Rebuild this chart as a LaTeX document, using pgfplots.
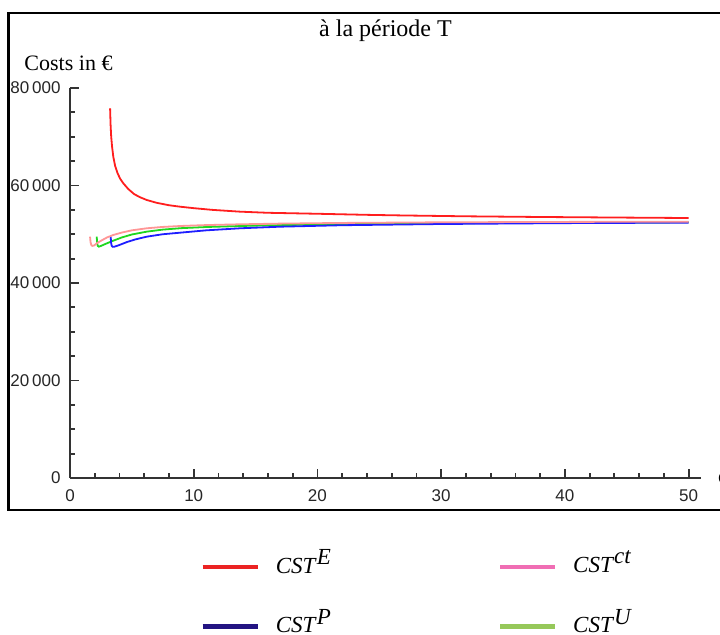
\documentclass[border=0pt]{standalone}
\usepackage{fontspec}
\setmainfont{Liberation Serif}
\newfontfamily\tickfont{Liberation Sans}
\usepackage{pgfplots}
\pgfplotsset{compat=1.18}
\definecolor{cE}{RGB}{255,30,30}
\definecolor{cCT}{RGB}{255,150,150}
\definecolor{cP}{RGB}{30,30,255}
\definecolor{cU}{RGB}{30,215,30}
\definecolor{lE}{RGB}{235,35,35}
\definecolor{lCT}{RGB}{240,110,180}
\definecolor{lP}{RGB}{35,20,130}
\definecolor{lU}{RGB}{150,200,90}
\begin{document}
\begin{tikzpicture}
\path[use as bounding box] (0,0) rectangle (360pt,317.5pt);
\clip (0,0) rectangle (360pt,317.5pt);
\fill[white] (0,0) rectangle (360pt,317.5pt);
\draw[line width=1pt] (4.25pt,311pt) rectangle (372pt,62.5pt);
\begin{axis}[
  at={(35pt,78.5pt)}, anchor=south west,
  scale only axis, width=315.5pt, height=195pt,
  xmin=0, xmax=51, ymin=0, ymax=80000,
  axis x line=bottom, axis y line=left,
  axis line style={-, line width=0.9pt, color=black!80},
  tick align=inside,
  major tick length=4.5pt, minor tick length=2.5pt,
  every tick/.style={black!80, line width=0.9pt},
  xtick={0,10,...,50}, minor x tick num=4,
  ytick={0,20000,...,80000}, minor y tick num=3,
  scaled y ticks=false,
  /pgf/number format/1000 sep={\,},
  /pgf/number format/assume math mode=true,
  tick label style={font=\tickfont\fontsize{8.5}{10}\selectfont, text=black!85},
  yticklabel style={xshift=-1.2pt},
  xticklabel style={yshift=-2.5pt},
  title={à la période T},
  title style={font=\fontsize{12}{14}\selectfont, at={(0.5,1)}, anchor=base, yshift=19.5pt},
  ylabel={Costs in €},
  every axis y label/.style={at={(rel axis cs:0,1)}, anchor=base, yshift=8.5pt, xshift=-0.75pt, font=\fontsize{11}{13}\selectfont},
  xlabel={c},
  every axis x label/.style={at={(rel axis cs:1,0)}, anchor=west, xshift=5pt, font=\fontsize{11}{13}\selectfont},
  legend columns=2,
  legend style={draw=none, fill=none, inner sep=0pt, at={(rel axis cs:0.206,-0.182)}, anchor=north west,
    font=\fontsize{11.5}{13}\selectfont, row sep=16.5pt,
    nodes={inner sep=0pt},
    /tikz/every odd column/.append style={column sep=8pt},
    /tikz/every even column/.append style={column sep=83pt}},
  legend image code/.code={\draw[#1, line width=2.2pt] (0pt,-2pt) -- (27.5pt,-2pt);},
]
\addplot[cE, line width=0.9pt, forget plot] coordinates {
(3.24,75840) (3.28,72500) (3.33,70000) (3.4,68000) (3.5,65900) (3.65,64000) (3.85,62500) (4.05,61400) (4.31,60450) (4.7,59300) (5.2,58200) (5.7,57550) (6.2,57030) (7,56450) (8,55950) (8.9,55650) (10,55350) (11.5,55000) (13.75,54630) (16,54400) (20,54200) (24,53980) (27,53850) (32,53680) (38,53540) (44,53430) (50,53330)
};
\addplot[cU, line width=0.9pt, forget plot] coordinates {
(2.16,49500) (2.19,48300) (2.24,47650) (2.32,47450) (2.5,47600) (2.9,48050) (3.5,48680) (4.2,49350) (5,49950) (6.2,50530) (7.5,50950) (9,51250) (11,51480) (13.75,51690) (17,51880) (22,52060) (30,52250) (40,52380) (50,52450)
};
\addplot[cP, line width=0.9pt, forget plot] coordinates {
(3.29,49500) (3.32,48300) (3.37,47650) (3.45,47420) (3.6,47450) (4,47800) (4.6,48400) (5.3,48950) (6.2,49500) (7.5,50000) (8.9,50320) (11,50800) (13.75,51220) (17,51550) (22,51850) (30,52100) (40,52280) (50,52380)
};
\addplot[cCT, line width=0.9pt, forget plot] coordinates {
(1.62,49500) (1.66,48400) (1.72,47800) (1.8,47600) (1.95,47700) (2.2,48200) (2.6,48800) (3,49350) (3.5,49850) (4.2,50350) (5,50800) (6.2,51220) (7.5,51500) (9,51700) (11,51880) (13.75,52040) (17,52180) (22,52320) (30,52450) (40,52530) (50,52580)
};
\addlegendimage{lE}
\addlegendentry{\textit{CST}$^{\textit{E}}$}
\addlegendimage{lCT}
\addlegendentry{\textit{CST}$^{\textit{ct}}$}
\addlegendimage{lP}
\addlegendentry{\textit{CST}$^{\textit{P}}$}
\addlegendimage{lU}
\addlegendentry{\textit{CST}$^{\textit{U}}$}
\end{axis}
\end{tikzpicture}
\end{document}
